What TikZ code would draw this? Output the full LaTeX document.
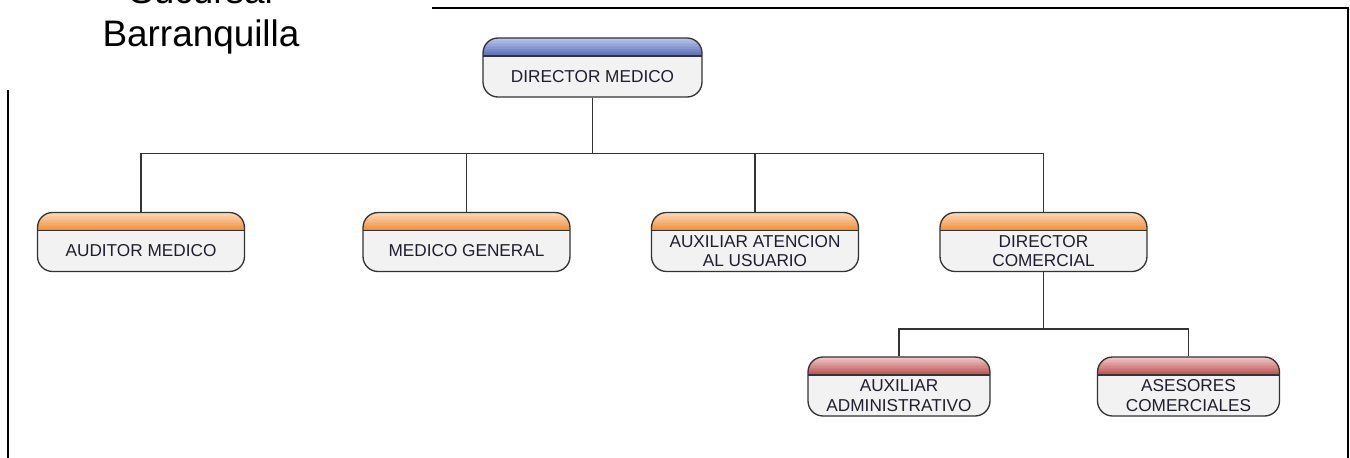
\documentclass[tikz,border=0pt]{standalone}
\usepackage{fontspec}
\setmainfont{Liberation Sans}
\usepackage{tikz}
\usetikzlibrary{positioning,calc}

\definecolor{bluetop}{HTML}{B8C4EA}
\definecolor{bluebot}{HTML}{5468B4}
\definecolor{orangetop}{HTML}{FCD9BA}
\definecolor{orangebot}{HTML}{F08A30}
\definecolor{redtop}{HTML}{F0C6C6}
\definecolor{redbot}{HTML}{B84A4A}
\definecolor{cardbody}{HTML}{F2F2F2}
\definecolor{cardline}{HTML}{333333}
\definecolor{inkblue}{HTML}{1E1E30}

\tikzset{
  card/.style={draw=cardline, line width=0.75pt, rounded corners=0.3cm,
    fill=cardbody, minimum width=4.14cm, minimum height=1.18cm, inner sep=0pt,
    path picture={
      % franja de color, de claro (arriba) a oscuro (abajo)
      \foreach \k [evaluate=\k as \pct using 8.5*\k] in {0,...,11}
        \fill[sharp corners, #1bot!\pct!#1top]
          ([yshift=-\k*0.03cm]path picture bounding box.north west) rectangle
          ([yshift=-\k*0.03cm-0.035cm]path picture bounding box.north east);
      \draw[sharp corners, cardline, line width=0.75pt]
        ([yshift=-0.36cm]path picture bounding box.north west) --
        ([yshift=-0.36cm]path picture bounding box.north east);
    }},
  smallcard/.style={card=#1, minimum width=3.64cm},
  bigcard/.style={card=#1, minimum width=4.38cm},
  cardtext/.style={font=\fontsize{9.8}{11.3}\selectfont, align=center,
    text=inkblue, yshift=-0.18cm},
  link/.style={draw=cardline, line width=0.8pt},
  frame/.style={draw=black, line width=0.9pt}
}

\begin{document}
\begin{tikzpicture}[x=0.02cm, y=-0.02cm]
\useasboundingbox (0,0) rectangle (1350,457);

% marco
\draw[frame] (8,460) -- (8,90);
\draw[frame] (432,8) -- (1348,8) -- (1348,460);
\node[font=\fontsize{21}{24.5}\selectfont, align=center, anchor=south, inner sep=0pt]
  (ttl) at (201,55) {Sucursal\\Barranquilla};

% nivel 1
\node[bigcard=blue, label={[cardtext]center:DIRECTOR MEDICO}] (dm) at (592.5,67.5) {};

% nivel 2
\node[card=orange, label={[cardtext]center:AUDITOR MEDICO}] (am) at (141,242) {};
\node[card=orange, label={[cardtext]center:MEDICO GENERAL}] (mg) at (466.5,242) {};
\node[card=orange, label={[cardtext]center:AUXILIAR ATENCION\\AL USUARIO}] (aau) at (755,242) {};
\node[card=orange, label={[cardtext]center:DIRECTOR\\COMERCIAL}] (dc) at (1043.5,242) {};

% nivel 3
\node[smallcard=red, label={[cardtext]center:AUXILIAR\\ADMINISTRATIVO}] (aa) at (899,386.5) {};
\node[smallcard=red, label={[cardtext]center:ASESORES\\COMERCIALES}] (ac) at (1188.5,386.5) {};

\draw[link] (dm.south) -- ++(0,56) -| (am.north);
\draw[link] (dm.south) -- ++(0,56) -| (mg.north);
\draw[link] (dm.south) -- ++(0,56) -| (aau.north);
\draw[link] (dm.south) -- ++(0,56) -| (dc.north);

\draw[link] (dc.south) -- ++(0,57) -| (aa.north);
\draw[link] (dc.south) -- ++(0,57) -| (ac.north);
\end{tikzpicture}
\end{document}
